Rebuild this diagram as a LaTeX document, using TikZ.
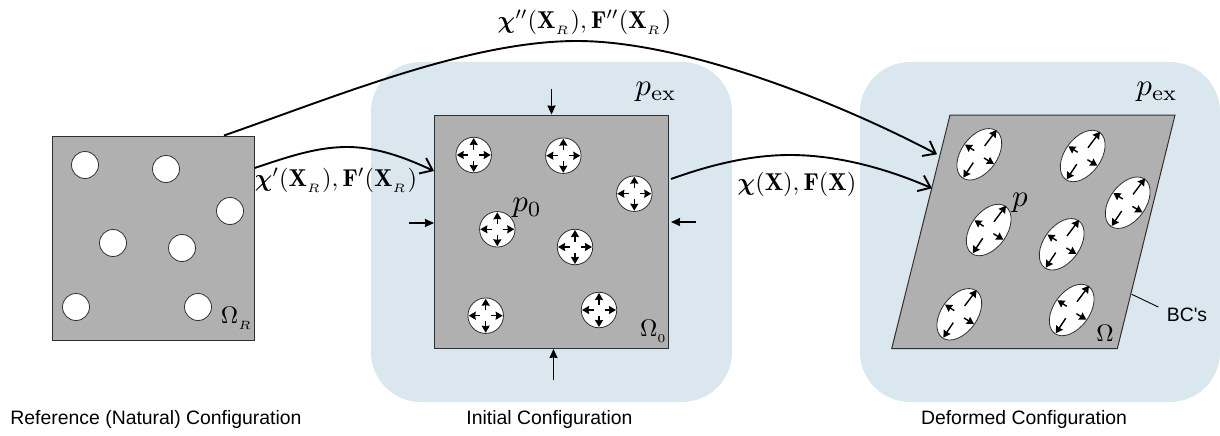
\documentclass[tikz,border=0pt]{standalone}
\usepackage{amsmath}
\usepackage{fontspec}
\newfontfamily\labfont{Liberation Sans}
\usetikzlibrary{arrows.meta,shapes.geometric}
\definecolor{panelblue}{HTML}{DAE7EE}
\definecolor{solidgrey}{HTML}{B0B0B0}
\definecolor{edgegrey}{HTML}{303030}
\tikzset{
  x=1pt,y=-1pt,
  panel/.style={fill=panelblue,rounded corners=50pt,inner sep=0pt,minimum width=361pt,minimum height=340pt},
  solid body/.style={fill=solidgrey,draw=edgegrey,line width=1pt,inner sep=0pt},
  hole/.style={circle,fill=white,draw=edgegrey,line width=0.8pt,inner sep=0pt},
  oval/.style={ellipse,fill=white,draw=edgegrey,line width=0.8pt,inner sep=0pt,rotate=54,minimum width=58pt,minimum height=36pt},
  pressure/.style={line width=1.4pt,-{Stealth[length=7pt,width=8pt,inset=0.5pt]}},
  load/.style={line width=1.4pt,-{Stealth[length=9pt,width=8pt,inset=0.5pt]}},
  mapping/.style={line width=1.9pt,-{Straight Barb[length=11pt,width=17pt]}},
  mathlab/.style={inner sep=0pt,scale=2.44},
  omlab/.style={inner sep=0pt,scale=2.4},
  symlab/.style={inner sep=0pt,scale=3.1},
  caption/.style={inner sep=0pt,font=\labfont\fontsize{19.4}{22}\selectfont},
}
\begin{document}
\begin{tikzpicture}
\useasboundingbox (0,0) rectangle (1220,436);
\node[panel] (pinit) at (551.5,232) {};
\node[panel,minimum width=360pt] (pdef) at (1040,232) {};
% reference body
\node[solid body,minimum width=202pt,minimum height=204pt] (ref) at (153,238) {};
\foreach \n/\x/\y in {1/85/165,2/166/169,3/230/211,4/113/243,5/182/248,6/76/307,7/198/307}
  \node[hole,minimum size=27pt] (r\n) at (\x,\y) {};
% initial body
\node[solid body,minimum width=234pt,minimum height=233.5pt] (init) at (551.5,231.75) {};
\foreach \n/\x/\y in {1/473.7/155,2/563.3/155.7,3/634.3/193.7,4/497.3/229.3,5/575/247,6/485.7/315.7,7/599/310}{
  \node[hole,minimum size=35.5pt] (i\n) at (\x,\y) {};
  \draw[pressure] ([xshift=5.5pt]i\n.center) -- ([xshift=17pt]i\n.center);
  \draw[pressure] ([xshift=-5.5pt]i\n.center) -- ([xshift=-17pt]i\n.center);
  \draw[pressure] ([yshift=5.5pt]i\n.center) -- ([yshift=17pt]i\n.center);
  \draw[pressure] ([yshift=-5.5pt]i\n.center) -- ([yshift=-17pt]i\n.center);
}
% deformed body
\coordinate (d1) at (950,115);
\coordinate (d2) at (1175,115);
\coordinate (d3) at (1117.3,348.7);
\coordinate (d4) at (891.7,348.7);
\path[solid body] (d1) -- (d2) -- (d3) -- (d4) -- cycle;
\foreach \n/\x/\y in {1/979.3/154.3,2/1082.7/156,3/1127.7/202.7,4/988.7/230,5/1061.7/244.3,6/959.3/314.3,7/1071.7/310}{
  \node[oval] (e\n) at (\x,\y) {};
  \draw[pressure] ([xshift=5.3pt,yshift=8.3pt]e\n.center) -- ([xshift=17.3pt,yshift=24.3pt]e\n.center);
  \draw[pressure] ([xshift=-6pt,yshift=-8.3pt]e\n.center) -- ([xshift=-16pt,yshift=-23.3pt]e\n.center);
  \draw[pressure] ([xshift=-5pt,yshift=3.7pt]e\n.center) -- ([xshift=-14.3pt,yshift=9.7pt]e\n.center);
  \draw[pressure] ([xshift=4.7pt,yshift=-3.7pt]e\n.center) -- ([xshift=14.7pt,yshift=-9.7pt]e\n.center);
}
% boundary loads
\coordinate (ltop) at (551.5,89);
\coordinate (lbot) at (553.5,380);
\coordinate (llef) at (409,223);
\coordinate (lrig) at (696,222);
\draw[load] (ltop) -- (ltop |- init.north);
\draw[load] (lbot) -- (lbot |- init.south);
\draw[load] (llef) -- (llef -| init.west);
\draw[load] (lrig) -- ([xshift=2pt]lrig -| init.east);
% labels
\node[mathlab] (l1) at (584.5,22) {$\boldsymbol{\chi}''(\mathbf{X}_{_R}),\mathbf{F}''(\mathbf{X}_{_R})$};
\node[mathlab] (l2) at (336,180) {$\boldsymbol{\chi}'(\mathbf{X}_{_R}),\mathbf{F}'(\mathbf{X}_{_R})$};
\node[mathlab] (l3) at (797,184) {$\boldsymbol{\chi}(\mathbf{X}),\mathbf{F}(\mathbf{X})$};
\node[symlab] (pe1) at (656,92) {$p_{\mathrm{ex}}$};
\node[symlab] (pe2) at (1157,92) {$p_{\mathrm{ex}}$};
\node[symlab] (p0) at (527,208) {$p_0$};
\node[symlab] (p) at (1020,203) {$p$};
\node[omlab] (om1) at (237,318) {$\Omega_{_R}$};
\node[omlab] (om2) at (654,331) {$\Omega_{_0}$};
\node[omlab] (om3) at (1105,333) {$\Omega$};
% mappings
\coordinate (top1) at (577,41);
\coordinate (top2) at (347,147);
\coordinate (top3) at (790,155);
\coordinate (endA) at (937,154.3);
\coordinate (endC) at (932,188.3);
\draw[line width=1.9pt] ([xshift=71pt]ref.north) .. controls (340,95) and (470,41) .. (top1);
\draw[mapping] (top1) .. controls (680,41) and (830,98) .. (endA);
\draw[line width=1.9pt] ([yshift=70pt]ref.east) .. controls (285,158) and (315,147) .. (top2);
\draw[mapping] (top2) .. controls (380,147) and (410,160) .. (init.west |- 0,171);
\draw[line width=1.9pt] ([xshift=2pt]init.east |- 0,179) .. controls (710,165) and (750,155) .. (top3);
\draw[mapping] (top3) .. controls (840,155) and (890,170) .. (endC);
% BC's
\node[caption] (bc) at (1187,315) {BC's};
\coordinate (bcp) at (1131.7,294.3);
\draw[line width=0.9pt] (bcp) -- (1158.3,307);
% captions
\node[caption] (c1) at (156,419) {Reference (Natural) Configuration};
\node[caption] (c2) at (549.5,419) {Initial Configuration};
\node[caption] (c3) at (1024,419) {Deformed Configuration};
\end{tikzpicture}
\end{document}
